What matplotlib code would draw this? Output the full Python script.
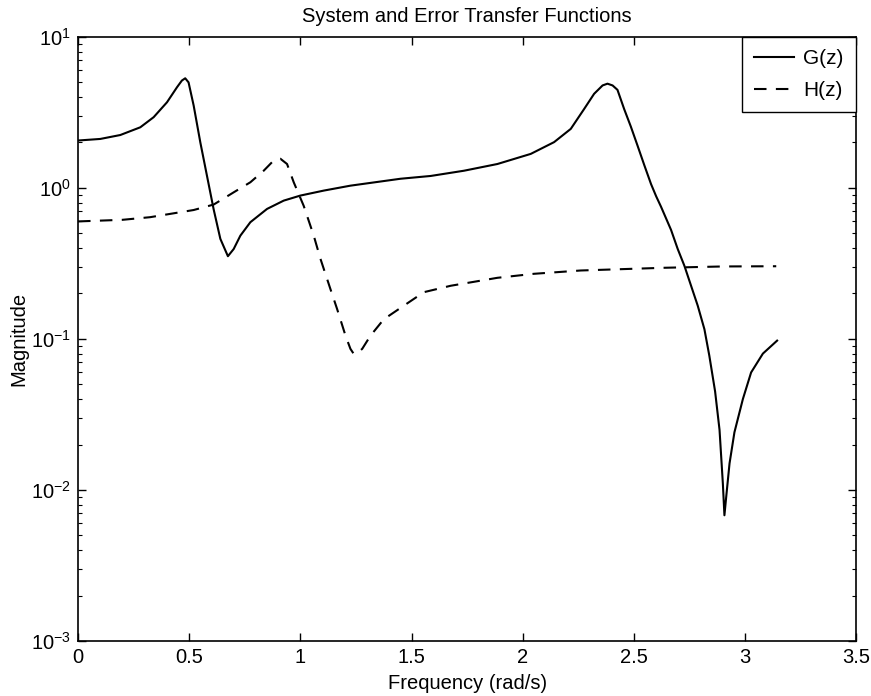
import numpy as np
import matplotlib
matplotlib.use('Agg')
import matplotlib.pyplot as plt
from matplotlib.ticker import LogLocator, NullFormatter

plt.rcParams['font.family'] = ['Liberation Sans', 'DejaVu Sans']
plt.rcParams['mathtext.fontset'] = 'custom'
plt.rcParams['mathtext.rm'] = 'Liberation Sans'
plt.rcParams['mathtext.it'] = 'Liberation Sans:italic'

# G(z) magnitude
g_freq = [0.00, 0.10, 0.19, 0.28, 0.34, 0.40, 0.445, 0.467, 0.482, 0.497, 0.52, 0.55,
          0.58, 0.61, 0.64, 0.674, 0.70, 0.73, 0.775, 0.85, 0.925, 1.00, 1.105, 1.225,
          1.45, 1.586, 1.736, 1.886, 2.036, 2.141, 2.216, 2.276, 2.321, 2.359, 2.381,
          2.404, 2.426, 2.456, 2.486, 2.516, 2.547, 2.577, 2.60, 2.622, 2.667, 2.697, 2.727,
          2.757, 2.787, 2.817, 2.839, 2.865, 2.885, 2.90, 2.907, 2.915, 2.93, 2.952,
          2.99, 3.027, 3.08, 3.144]
g_mag = [2.06, 2.11, 2.24, 2.52, 2.94, 3.69, 4.64, 5.14, 5.32, 5.0, 3.51, 2.0,
         1.2, 0.72, 0.46, 0.353, 0.394, 0.483, 0.593, 0.726, 0.824, 0.89, 0.96, 1.035,
         1.15, 1.20, 1.30, 1.44, 1.68, 2.01, 2.46, 3.33, 4.2, 4.77, 4.9,
         4.77, 4.46, 3.33, 2.55, 1.91, 1.41, 1.06, 0.88, 0.75, 0.527, 0.394, 0.305,
         0.225, 0.166, 0.116, 0.0776, 0.045, 0.025, 0.011, 0.0068, 0.009, 0.015, 0.0241,
         0.040, 0.060, 0.080, 0.0975]

# H(z) magnitude
h_freq = [0.00, 0.20, 0.324, 0.414, 0.52, 0.61, 0.70, 0.775, 0.835, 0.88, 0.91, 0.94,
          0.97, 1.015, 1.06, 1.09, 1.135, 1.165, 1.203, 1.225, 1.24, 1.258, 1.278, 1.315,
          1.375, 1.465, 1.555, 1.676, 1.886, 2.05, 2.261, 2.45, 2.637, 2.9, 3.14]
h_mag = [0.60, 0.615, 0.64, 0.673, 0.714, 0.776, 0.935, 1.09, 1.30, 1.52, 1.56, 1.44,
         1.09, 0.76, 0.483, 0.34, 0.214, 0.158, 0.105, 0.086, 0.0796, 0.081, 0.086, 0.105,
         0.135, 0.166, 0.204, 0.225, 0.254, 0.27, 0.284, 0.29, 0.296, 0.302, 0.303]

fig = plt.figure(figsize=(8.71, 6.96), dpi=100)
ax = fig.add_axes([0.0896, 0.079, 0.8935, 0.868])

ax.semilogy(g_freq, g_mag, '-', color='black', lw=1.5, label='G(z)')
ax.semilogy(h_freq, h_mag, '--', color='black', lw=1.5, dashes=(6, 4.5), label='H(z)')

ax.set_xlim(0, 3.5)
ax.set_ylim(1e-3, 1e1)
ax.set_xticks([0, 0.5, 1, 1.5, 2, 2.5, 3, 3.5])
ax.set_xticklabels(['0', '0.5', '1', '1.5', '2', '2.5', '3', '3.5'])
ax.yaxis.set_major_locator(LogLocator(base=10, numticks=10))
ax.yaxis.set_minor_locator(LogLocator(base=10, subs=np.arange(2, 10), numticks=10))
ax.yaxis.set_minor_formatter(NullFormatter())

ax.tick_params(which='both', direction='in', top=True, right=True, labelsize=14.5)
ax.tick_params(which='major', length=6, width=1, pad=5)
ax.tick_params(which='minor', length=3, width=0.8)
for s in ax.spines.values():
    s.set_linewidth(1.2)

ax.set_title('System and Error Transfer Functions', fontsize=14.5, pad=11)
ax.set_xlabel('Frequency (rad/s)', fontsize=14.5, labelpad=5)
ax.set_ylabel('Magnitude', fontsize=14.5, labelpad=2)

leg = ax.legend(loc='upper right', fontsize=15, fancybox=False, edgecolor='black',
                framealpha=1, borderaxespad=0, handlelength=1.9, borderpad=0.6,
                labelspacing=0.6, handletextpad=0.45)
leg.get_frame().set_linewidth(1.0)

fig.savefig('out.png', dpi=100)
